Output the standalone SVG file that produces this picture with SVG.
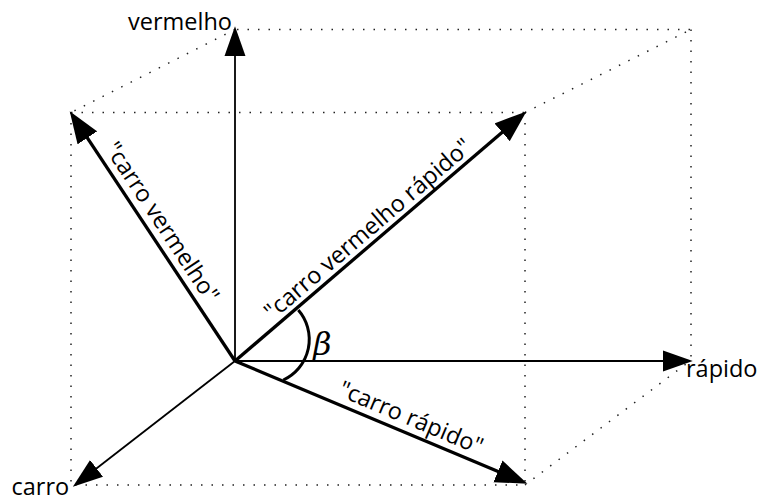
<svg xmlns="http://www.w3.org/2000/svg" width="758" height="501" viewBox="0 0 758 501">
<style>
.dot{fill:none;stroke:#222;stroke-width:1.5;stroke-dasharray:1.5 9}
.axis{fill:none;stroke:#000;stroke-width:1.8}
.vec{fill:none;stroke:#000;stroke-width:3.3}
.lbl{font-family:"Open Sans","Noto Sans","DejaVu Sans",sans-serif;font-size:23.5px;fill:#000}
</style>
<defs>
<marker id="ah" markerUnits="userSpaceOnUse" markerWidth="30" markerHeight="22" refX="2" refY="9.5" orient="auto" viewBox="0 0 27 19">
<path d="M0,0 L27,9.5 L0,19 Z" fill="#000"/>
</marker>
<marker id="ahb" markerUnits="userSpaceOnUse" markerWidth="32" markerHeight="24" refX="2" refY="11" orient="auto" viewBox="0 0 30 22">
<path d="M0,0 L30,11 L0,22 Z" fill="#000"/>
</marker>
</defs>
<g id="box">
<path class="dot" d="M237,29.5 L691,29.5 M235,29.5 L71,112.5 M71,112.5 L525,112.5 M525,112.5 L691,29.5 M691,29.5 L691,360 M71,112.5 L71,485 M75,485 L525,485 M525,112.5 L525,485 M525,485 L690,361"/>
</g>
<g id="connectors">
<line class="axis" x1="235" y1="361" x2="235" y2="54" marker-end="url(#ah)"/>
<line class="axis" x1="235" y1="361" x2="665" y2="361" marker-end="url(#ah)"/>
<line class="axis" x1="235" y1="361" x2="94.8" y2="469.7" marker-end="url(#ah)"/>
<line class="vec" x1="235" y1="361" x2="86.2" y2="136.1" marker-end="url(#ahb)"/>
<line class="vec" x1="235" y1="361" x2="503.7" y2="130.9" marker-end="url(#ahb)"/>
<line class="vec" x1="235" y1="361" x2="499.9" y2="472.2" marker-end="url(#ahb)"/>
<path id="angle-arc" d="M298.3,310 A44.8,44.8 0 0,1 283.3,380" fill="none" stroke="#000" stroke-width="3"/>
</g>
<g id="vermelho"><text class="lbl" x="232" y="30" text-anchor="end">vermelho</text></g>
<g id="rapido"><text class="lbl" x="686" y="376.5">rápido</text></g>
<g id="carro"><text class="lbl" x="11.5" y="495">carro</text></g>
<g id="carro-vermelho"><text class="lbl" text-anchor="middle" transform="translate(155.5,226.5) rotate(56.5)">"carro vermelho"</text></g>
<g id="carro-vermelho-rapido"><text class="lbl" text-anchor="middle" transform="translate(373,235) rotate(-40.6)">"carro vermelho rápido"</text></g>
<g id="carro-rapido"><text class="lbl" text-anchor="middle" transform="translate(408,425) rotate(22.8)">"carro rápido"</text></g>
<g id="beta"><text x="313" y="355" font-family="'DejaVu Serif','Liberation Serif',serif" font-style="italic" font-size="32">β</text></g>
</svg>
